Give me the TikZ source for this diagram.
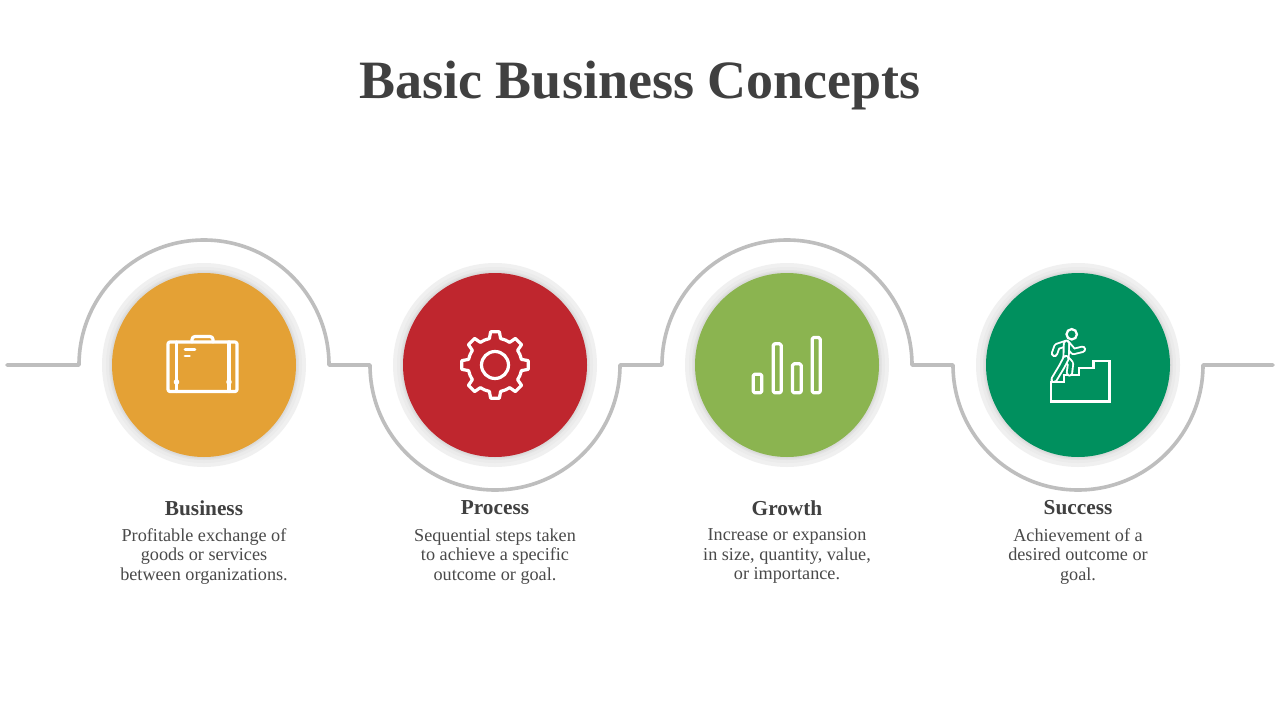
\documentclass[tikz,border=0pt]{standalone}
\usepackage{fontspec}
\setmainfont{Liberation Serif}
\usetikzlibrary{calc}
\definecolor{cOrange}{HTML}{E4A135}
\definecolor{cRed}{HTML}{BF262E}
\definecolor{cLime}{HTML}{8BB450}
\definecolor{cGreen}{HTML}{00905E}
\definecolor{cLine}{HTML}{BEBEBE}
\definecolor{cText}{HTML}{404040}
\definecolor{cDesc}{HTML}{4A4A4A}
\tikzset{
  disc/.style={circle,inner sep=0pt,minimum size=184pt,fill=#1},
  icon/.style={draw=white,line width=3.2pt,line join=round,line cap=round},
  headtext/.style={font=\bfseries\fontsize{21.3}{25}\selectfont,text=cText},
  desctext/.style={align=center,font=\fontsize{18.2}{19.6}\selectfont,text=cDesc},
  track/.style={draw=cLine,line width=3.6pt,line cap=round,line join=round}
}
\newcommand{\halo}[1]{%
  \fill[black!6] (#1) circle (102pt);
  \fill[black!8] (#1) circle (98pt);
  \fill[black!11] (#1) circle (95pt);
  \fill[black!14] (#1) circle (93.5pt);
}
\begin{document}
\begin{tikzpicture}[x=1pt,y=1pt]
\useasboundingbox (0,0) rectangle (1280,-720);
\fill[white] (0,0) rectangle (1280,-720);

% title
\node[font=\bfseries\fontsize{54}{60}\selectfont,text=cText] (title) at (640,-86) {Basic Business Concepts};

% centres
\coordinate (p1) at (204,-365);
\coordinate (p2) at (495,-365);
\coordinate (p3) at (787,-365);
\coordinate (p4) at (1078,-365);
\coordinate (L) at (7,-365);
\coordinate (R) at (1273,-365);

% track
\draw[track] (L) -- ($(p1)+(-125,0)$) arc[start angle=180,end angle=0,radius=125pt]
  -- ($(p2)+(-125,0)$) arc[start angle=180,end angle=360,radius=125pt]
  -- ($(p3)+(-125,0)$) arc[start angle=180,end angle=0,radius=125pt]
  -- ($(p4)+(-125,0)$) arc[start angle=180,end angle=360,radius=125pt]
  -- (R);

% halos and discs
\halo{p1}\halo{p2}\halo{p3}\halo{p4}
\node[disc=cOrange] (c1) at (p1) {};
\node[disc=cRed] (c2) at (p2) {};
\node[disc=cLime] (c3) at (p3) {};
\node[disc=cGreen] (c4) at (p4) {};

% briefcase
\draw[icon,rounded corners=2pt] (168,-342) rectangle (237,-391.5);
\draw[icon,rounded corners=3pt] (192,-342) -- (192,-336.5) -- (213,-336.5) -- (213,-342);
\draw[icon] (176.5,-342) -- (176.5,-391.5);
\draw[icon] (229,-342) -- (229,-391.5);
\fill[white] (176.5,-382) circle (2.8pt) (229,-382) circle (2.8pt);
\draw[icon,line width=2.8pt] (185,-349.5) -- (195,-349.5);
\draw[icon,line width=2.8pt] (185,-356) -- (189.5,-356);

% gear
\begin{scope}[shift={(p2)}]
\draw[icon] (-12:27)
  \foreach \a in {0,45,...,315} {
    -- (\a-12:27) -- (\a-7.5:33.5) -- (\a+7.5:33.5) -- (\a+12:27)
    arc[start angle=\a+12,end angle=\a+33,radius=27pt]
  } -- cycle;
\draw[icon] (0,0) circle (13.5pt);
\end{scope}

% bars
\draw[icon,rounded corners=1.5pt] (753.2,-374.2) rectangle (761.8,-392.8);
\draw[icon,rounded corners=1.5pt] (773.2,-343.8) rectangle (781.2,-392.8);
\draw[icon,rounded corners=1.5pt] (792.5,-363.8) rectangle (801.2,-392.8);
\draw[icon,rounded corners=1.5pt] (812.2,-337.5) rectangle (820.2,-392.8);

% stairs
\draw[icon,line width=2.6pt,line cap=butt,line join=miter] (1051,-401.5) -- (1051,-382) -- (1064,-382) -- (1064,-375) -- (1079,-375)
  -- (1079,-368) -- (1093.5,-368) -- (1093.5,-361) -- (1109.5,-361) -- (1109.5,-401.5) -- cycle;
% climber
\begin{scope}[every path/.style={draw=white,line width=1.9pt,double=cGreen,double distance=3.4pt,line join=round,line cap=round}]
\draw (1054.5,-353.5) -- (1057,-346.5) -- (1066.5,-343.3) -- (1073.5,-351.5) -- (1082.5,-349.3);
\draw (1066.5,-343.3) -- (1066,-358.5) -- (1070.5,-363.5) -- (1069.5,-373);
\draw (1066,-358.5) -- (1061.5,-367) -- (1054,-379.5);
\end{scope}
\draw[draw=white,line width=2.3pt] (1071.7,-334.3) circle (5.2pt);

% texts
\node[headtext] (h1) at (204,-508) {Business};
\node[headtext] (h2) at (495,-508) {Process};
\node[headtext] (h3) at (787,-508) {Growth};
\node[headtext] (h4) at (1078,-508) {Success};
\node[desctext,anchor=north] (d1) at (204,-525) {Profitable exchange of\\goods or services\\between organizations.};
\node[desctext,anchor=north] (d2) at (495,-525) {Sequential steps taken\\to achieve a specific\\outcome or goal.};
\node[desctext,anchor=north] (d3) at (787,-525) {Increase or expansion\\in size, quantity, value,\\or importance.};
\node[desctext,anchor=north] (d4) at (1078,-525) {Achievement of a\\desired outcome or\\goal.};
\end{tikzpicture}
\end{document}
